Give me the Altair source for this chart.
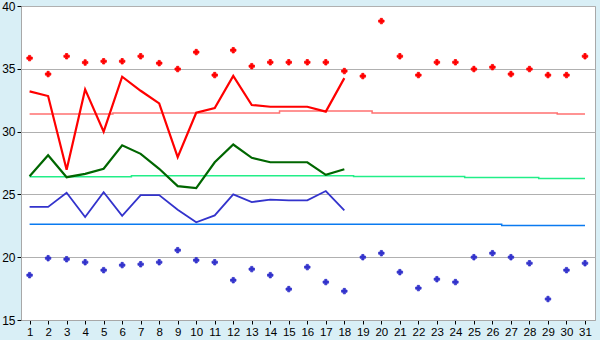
import altair as alt
import pandas as pd

days = list(range(1, 32))
line_days = list(range(1, 19))

# upper points (red) and lower points (blue), one per day
red_points = [35.85, 34.58, 36.0, 35.5, 35.6, 35.6, 36.0, 35.45, 34.98, 36.33,
              34.5, 36.48, 35.21, 35.52, 35.52, 35.52, 35.52, 34.82, 34.42, 38.8,
              36.0, 34.5, 35.52, 35.52, 34.98, 35.13, 34.58, 34.98, 34.5, 34.5, 36.0]
blue_points = [18.57, 19.92, 19.84, 19.6, 18.97, 19.37, 19.44, 19.6, 20.56, 19.76,
               19.6, 18.17, 19.05, 18.57, 17.46, 19.21, 18.02, 17.3, 20.0, 20.32,
               18.81, 17.54, 18.25, 18.02, 20.0, 20.32, 20.0, 19.52, 16.67, 18.97, 19.52]

# lines for days 1-18
red_line = [33.2, 32.83, 26.96, 33.36, 30.0, 34.37, 33.25, 32.25, 27.96, 31.5,
            31.88, 34.44, 32.12, 31.98, 31.98, 31.98, 31.59, 34.26]
green_line = [26.45, 28.12, 26.37, 26.64, 27.04, 28.91, 28.23, 27.04, 25.66, 25.5,
              27.56, 28.97, 27.91, 27.56, 27.56, 27.56, 26.56, 27.0]
blue_line = [24.0, 24.0, 25.13, 23.2, 25.18, 23.3, 24.95, 24.95, 23.78, 22.78,
             23.33, 25.0, 24.39, 24.58, 24.53, 24.53, 25.27, 23.73]

# reference (normal) lines
red_norm = [31.40] * 5 + [31.48] * 9 + [31.64] * 5 + [31.48] * 10 + [31.40] * 2
green_norm = [26.40] * 6 + [26.48] * 12 + [26.42] * 6 + [26.35] * 4 + [26.27] * 3
blue_norm = [22.62] * 26 + [22.53] * 5

y_ticks = [15, 20, 25, 30, 35, 40]

xs = alt.Scale(domain=[0.536, 31.54], nice=False, zero=False)
ys = alt.Scale(domain=[15, 40], nice=False, zero=False)

x_axis = alt.Axis(values=days, title=None, grid=False, labelFont="Liberation Sans",
                  labelFontSize=11.5, labelColor="black", tickColor="black", tickSize=4,
                  domainColor="#a8a8a8", labelPadding=2, labelFlush=False)
y_axis = alt.Axis(values=y_ticks, title=None, grid=True, gridColor="#b0b0b0",
                  labelFont="Liberation Sans", labelFontSize=12, labelColor="black",
                  tickColor="black", tickSize=4, domainColor="#a8a8a8", labelPadding=2,
                  labelFlush=False)


def frame(d, vals):
    return pd.DataFrame({"day": d, "v": vals})


def enc():
    return dict(x=alt.X("day:Q", scale=xs, axis=x_axis),
                y=alt.Y("v:Q", scale=ys, axis=y_axis))


def line_layer(d, vals, color, width, interp="linear"):
    return alt.Chart(frame(d, vals)).mark_line(
        color=color, strokeWidth=width, interpolate=interp
    ).encode(**enc())


def point_layer(d, vals, color):
    return alt.Chart(frame(d, vals)).mark_point(
        shape="cross", filled=True, size=30, color=color, opacity=1,
        stroke=color, strokeWidth=0.8
    ).encode(**enc())


chart = alt.layer(
    line_layer(days, red_norm, "#ff7070", 1.5, "step"),
    line_layer(days, green_norm, "#22ee88", 1.5, "step"),
    line_layer(days, blue_norm, "#0a7af0", 1.5, "step"),
    line_layer(line_days, red_line, "#ff0000", 2.2),
    line_layer(line_days, green_line, "#006600", 2.2),
    line_layer(line_days, blue_line, "#3333cc", 1.8),
    point_layer(days, red_points, "#ff0000"),
    point_layer(days, blue_points, "#3333cc"),
).properties(
    width=574, height=314, background="#d9eff6",
    padding={"left": 21, "top": 6, "right": 5, "bottom": 20},
    autosize=alt.AutoSizeParams(type="none"),
).configure_view(stroke="#a8a8a8", fill="white")

chart.save("out.html", embed_options={"renderer": "svg", "actions": False})
